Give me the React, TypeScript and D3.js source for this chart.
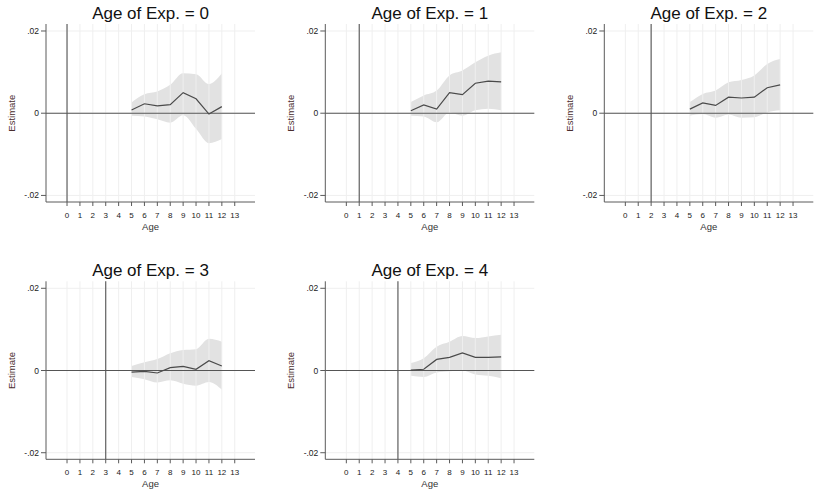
import React from "react";
import * as d3 from "d3";

// Ages at which the effect is estimated
const ages = [5, 6, 7, 8, 9, 10, 11, 12];
const xTicks = [0, 1, 2, 3, 4, 5, 6, 7, 8, 9, 10, 11, 12, 13];
const yTicks = [0.02, 0, -0.02];
const yTickLabels = [".02", "0", "-.02"];
const expAges = [0, 1, 2, 3, 4];

// Point estimates and 95% bands, one set per age of exposure
const estExp0 = [0.0008, 0.0023, 0.0018, 0.0021, 0.005, 0.0035, -0.0002, 0.0016];
const hiExp0 = [0.0026, 0.0046, 0.0053, 0.0069, 0.0097, 0.0095, 0.0071, 0.0097];
const loExp0 = [-0.0006, -0.0008, -0.0015, -0.0023, -0.0005, -0.0038, -0.0073, -0.0063];

const estExp1 = [0.0006, 0.002, 0.001, 0.005, 0.0045, 0.0073, 0.0078, 0.0076];
const hiExp1 = [0.0027, 0.0043, 0.0055, 0.0092, 0.0104, 0.0124, 0.014, 0.0148];
const loExp1 = [-0.0006, -0.0008, -0.0022, 0.0002, -0.0006, 0.0007, 0.0011, 0.0007];

const estExp2 = [0.001, 0.0025, 0.0019, 0.0039, 0.0037, 0.0039, 0.0062, 0.0069];
const hiExp2 = [0.0027, 0.0047, 0.0055, 0.0075, 0.0081, 0.0092, 0.012, 0.0132];
const loExp2 = [-0.0006, -0.0002, -0.0011, -0.0003, -0.0011, -0.001, 0.0002, 0.0007];

const estExp3 = [-0.0004, -0.0002, -0.0006, 0.0007, 0.001, 0.0003, 0.0024, 0.0011];
const hiExp3 = [0.0011, 0.002, 0.0028, 0.0042, 0.005, 0.0052, 0.0077, 0.007];
const loExp3 = [-0.0016, -0.0021, -0.0029, -0.0024, -0.0032, -0.0037, -0.0028, -0.0047];

const estExp4 = [0.0001, 0.0003, 0.0027, 0.0032, 0.0043, 0.0032, 0.0032, 0.0033];
const hiExp4 = [0.0018, 0.003, 0.0058, 0.007, 0.0084, 0.0079, 0.0083, 0.0087];
const loExp4 = [-0.0013, -0.0016, -0.0005, -0.0002, 0, -0.001, -0.0013, -0.0019];

const estimates = [estExp0, estExp1, estExp2, estExp3, estExp4];
const highs = [hiExp0, hiExp1, hiExp2, hiExp3, hiExp4];
const lows = [loExp0, loExp1, loExp2, loExp3, loExp4];

const W = 817;
const H = 492;
const colX = [0, 279.3, 558.3];
const rowY = [0, 257.3];
const plot = { left: 46, right: 255, top: 24, bottom: 202 };
const FONT = "'Liberation Sans', Arial, Helvetica, sans-serif";

const x = d3.scaleLinear().domain([-1.63, 14.57]).range([plot.left, plot.right]);
const y = d3.scaleLinear().domain([-0.0216, 0.0217]).range([plot.bottom, plot.top]);

type Pt = { age: number; est: number; lo: number; hi: number };

const bandGen = d3
  .area<Pt>()
  .x((d) => x(d.age))
  .y0((d) => y(d.lo))
  .y1((d) => y(d.hi))
  .curve(d3.curveMonotoneX);

const lineGen = d3
  .line<Pt>()
  .x((d) => x(d.age))
  .y((d) => y(d.est));

function Panel({ idx }: { idx: number }) {
  const k = expAges[idx];
  const tx = colX[idx % 3];
  const ty = rowY[Math.floor(idx / 3)];
  const pts: Pt[] = ages.map((a, i) => ({
    age: a,
    est: estimates[idx][i],
    lo: lows[idx][i],
    hi: highs[idx][i],
  }));
  const gridColor = "#efefef";
  const axisColor = "#5a5a5a";
  return (
    <g transform={`translate(${tx},${ty})`}>
      <text
        x={(plot.left + plot.right) / 2}
        y={19}
        textAnchor="middle"
        fontSize={17}
        fill="#111"
        fontFamily={FONT}
      >
        {`Age of Exp. = ${k}`}
      </text>

      {/* confidence band */}
      <path d={bandGen(pts) || ""} fill="#e2e2e2" stroke="none" />

      {/* grid */}
      {xTicks.map((t) => (
        <line
          key={`gx${t}`}
          x1={x(t)}
          x2={x(t)}
          y1={plot.top}
          y2={plot.bottom}
          stroke={gridColor}
          strokeWidth={1}
        />
      ))}
      {yTicks.map((t) => (
        <line
          key={`gy${t}`}
          x1={plot.left}
          x2={plot.right}
          y1={y(t)}
          y2={y(t)}
          stroke={gridColor}
          strokeWidth={1}
        />
      ))}

      {/* reference lines */}
      <line x1={plot.left} x2={plot.right} y1={y(0)} y2={y(0)} stroke="#555" strokeWidth={1.1} />
      <line x1={x(k)} x2={x(k)} y1={plot.top} y2={plot.bottom} stroke="#555" strokeWidth={1.1} />

      {/* estimates */}
      <path d={lineGen(pts) || ""} fill="none" stroke="#4a4a4a" strokeWidth={1.2} />

      {/* y axis */}
      <line x1={plot.left} x2={plot.left} y1={plot.top} y2={plot.bottom} stroke={axisColor} strokeWidth={1} />
      {yTicks.map((t, i) => (
        <g key={`yt${t}`}>
          <line x1={plot.left - 5} x2={plot.left} y1={y(t)} y2={y(t)} stroke={axisColor} strokeWidth={1} />
          <text
            x={plot.left - 7}
            y={y(t) + 3}
            textAnchor="end"
            fontSize={8.5}
            fill="#222"
            fontFamily={FONT}
          >
            {yTickLabels[i]}
          </text>
        </g>
      ))}
      <text
        transform={`translate(15,${y(0)}) rotate(-90)`}
        textAnchor="middle"
        fontSize={9.5}
        fill="#4a2e2e"
        fontFamily={FONT}
      >
        Estimate
      </text>

      {/* x axis */}
      <line x1={plot.left} x2={plot.right} y1={plot.bottom} y2={plot.bottom} stroke={axisColor} strokeWidth={1} />
      {xTicks.map((t) => (
        <g key={`xt${t}`}>
          <line x1={x(t)} x2={x(t)} y1={plot.bottom} y2={plot.bottom + 4} stroke={axisColor} strokeWidth={1} />
          <text
            x={x(t)}
            y={plot.bottom + 16}
            textAnchor="middle"
            fontSize={8}
            fill="#222"
            fontFamily={FONT}
          >
            {String(t)}
          </text>
        </g>
      ))}
      <text
        x={(plot.left + plot.right) / 2}
        y={plot.bottom + 28}
        textAnchor="middle"
        fontSize={9.5}
        fill="#333"
        fontFamily={FONT}
      >
        Age
      </text>
    </g>
  );
}

export default function App() {
  return (
    <svg
      width={W}
      height={H}
      viewBox={`0 0 ${W} ${H}`}
      style={{ position: "absolute", left: 0, top: 0, background: "#fff" }}
    >
      <rect x={0} y={0} width={W} height={H} fill="#fff" />
      {expAges.map((_, i) => (
        <Panel key={i} idx={i} />
      ))}
    </svg>
  );
}
